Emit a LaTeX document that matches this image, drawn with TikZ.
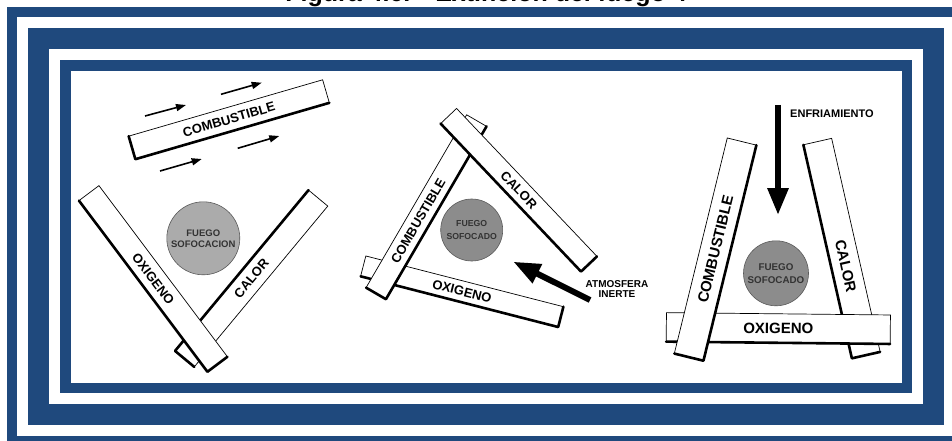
\documentclass[tikz,border=0pt]{standalone}
\usepackage{fontspec}
\setmainfont{Liberation Sans}
\usetikzlibrary{arrows.meta}
\definecolor{FrameBlue}{HTML}{1F497D}
\definecolor{FireLight}{HTML}{ABABAB}
\definecolor{FireDark}{HTML}{8C8C8C}

\begin{document}
\begin{tikzpicture}[x=1pt,y=1pt,
    plank/.style={draw=black, line width=0.7pt, fill=white, inner sep=0pt, outer sep=0pt,
      font=\bfseries\fontsize{13}{13}\selectfont},
    bigplank/.style={plank, font=\bfseries\fontsize{15}{15}\selectfont},
    shade/.style={line width=2.6pt, line cap=round, line join=round},
    fire/.style={circle, draw=black!65, line width=0.6pt, inner sep=0pt, align=center, text=black!80},
    flow/.style={line width=1.6pt, -{Triangle[length=10pt,width=7pt]}},
    push/.style={line width=6pt, -{Triangle[length=27pt,width=20pt]}},
    lab/.style={font=\bfseries\fontsize{10}{10}\selectfont, align=center},
  ]
  \useasboundingbox (0,0) rectangle (952,440);
  % titulo (cortado por el borde)
  \node[anchor=base, font=\bfseries\fontsize{25}{25}\selectfont] (title) at (486,438.5)
    {Figura 4.6.\quad Extinción del fuego 4};
  % marco
  \fill[FrameBlue] (7,433) rectangle (965,-6);
  \fill[white] (17,423) rectangle (955,4);
  \fill[FrameBlue] (28,412) rectangle (944,15);
  \fill[white] (49,391) rectangle (923,36);
  \fill[FrameBlue] (60,380) rectangle (912,47);
  \fill[white] (71,369) rectangle (902,57);

  % 1: sofocacion por eliminacion del combustible
  \node[plank, rotate=16.2, minimum width=202pt, minimum height=24pt] (comb1) at (229,320.5) {COMBUSTIBLE};
  \draw[shade] (comb1.north west) -- (comb1.south west) -- (comb1.south east);
  \draw[flow] (145,324) coordinate (f1a) -- (186,335) coordinate (f1b);
  \draw[flow] (221,345.7) coordinate (f2a) -- (261.7,357.3) coordinate (f2b);
  \draw[flow] (160,269) coordinate (f3a) -- (201.7,281) coordinate (f3b);
  \draw[flow] (237.7,291.7) coordinate (f4a) -- (279.3,304) coordinate (f4b);
  \node[plank, rotate=50.3, minimum width=209pt, minimum height=25pt] (calor1) at (251.4,161.5) {CALOR};
  \draw[shade] (calor1.south west) -- (calor1.north west) -- (calor1.north east);
  \node[plank, rotate=-53.1, minimum width=214pt, minimum height=25pt] (oxig1) at (153.2,161.3) {OXIGENO};
  \draw[shade] (oxig1.south west) -- (oxig1.south east) -- (oxig1.north east);
  \node[fire, fill=FireLight, minimum size=73pt, font=\bfseries\fontsize{9.5}{11}\selectfont] (fire1)
    at (203.3,201.7) {FUEGO\\SOFOCACION};

  % 2: atmosfera inerte
  \node[plank, rotate=-14.4, minimum width=204pt, minimum height=21pt] (oxig2) at (462,148.5) {OXIGENO};
  \draw[shade] (oxig2.south west) -- (oxig2.south east) -- (oxig2.north east);
  \node[plank, rotate=59.8, minimum width=200pt, minimum height=23pt] (comb2) at (426.3,233) {\hspace*{-32pt}COMBUSTIBLE};
  \draw[shade] (comb2.north west) -- (comb2.south west) -- (comb2.south east);
  \node[plank, rotate=-46.5, minimum width=204pt, minimum height=22pt] (calor2) at (518.8,250) {CALOR};
  \draw[shade] (calor2.south west) -- (calor2.south east) -- (calor2.north east);
  \node[fire, fill=FireDark, minimum size=62pt, font=\bfseries\fontsize{8.7}{13}\selectfont] (fire2)
    at (471.7,210) {FUEGO\\SOFOCADO};
  \coordinate (atmtail) at (590,140);
  \coordinate (atmtip) at (513.3,178.3);
  \draw[push] (atmtail) -- (atmtip);
  \node[lab] (atmlab) at (617,151) {ATMOSFERA\\INERTE};

  % 3: enfriamiento
  \node[bigplank, rotate=-77.2, minimum width=219pt, minimum height=29pt] (calor3) at (841.75,191.65) {CALOR\hspace*{-36pt}};
  \draw[shade] (calor3.south west) -- (calor3.south east) -- (calor3.north east);
  \node[bigplank, rotate=-0.6, minimum width=224pt, minimum height=29pt] (oxig3) at (778.3,111.7) {OXIGENO};
  \draw[shade] (oxig3.south west) -- (oxig3.south east);
  \node[bigplank, rotate=76.2, minimum width=222pt, minimum height=30pt] (comb3) at (715.35,190.65) {COMBUSTIBLE};
  \draw[shade] (comb3.north west) -- (comb3.south west) -- (comb3.south east);
  \node[fire, fill=FireDark, minimum size=65pt, font=\bfseries\fontsize{9.8}{13}\selectfont] (fire3)
    at (776,166.7) {FUEGO\\SOFOCADO};
  \coordinate (enfrtail) at (778,335);
  \coordinate (enfrtip) at (778,225);
  \draw[push] (enfrtail) -- (enfrtip);
  \node[lab, anchor=west, font=\bfseries\fontsize{11}{11}\selectfont] (enfrlab) at (786.7,326.7) {ENFRIAMIENTO};
\end{tikzpicture}
\end{document}
